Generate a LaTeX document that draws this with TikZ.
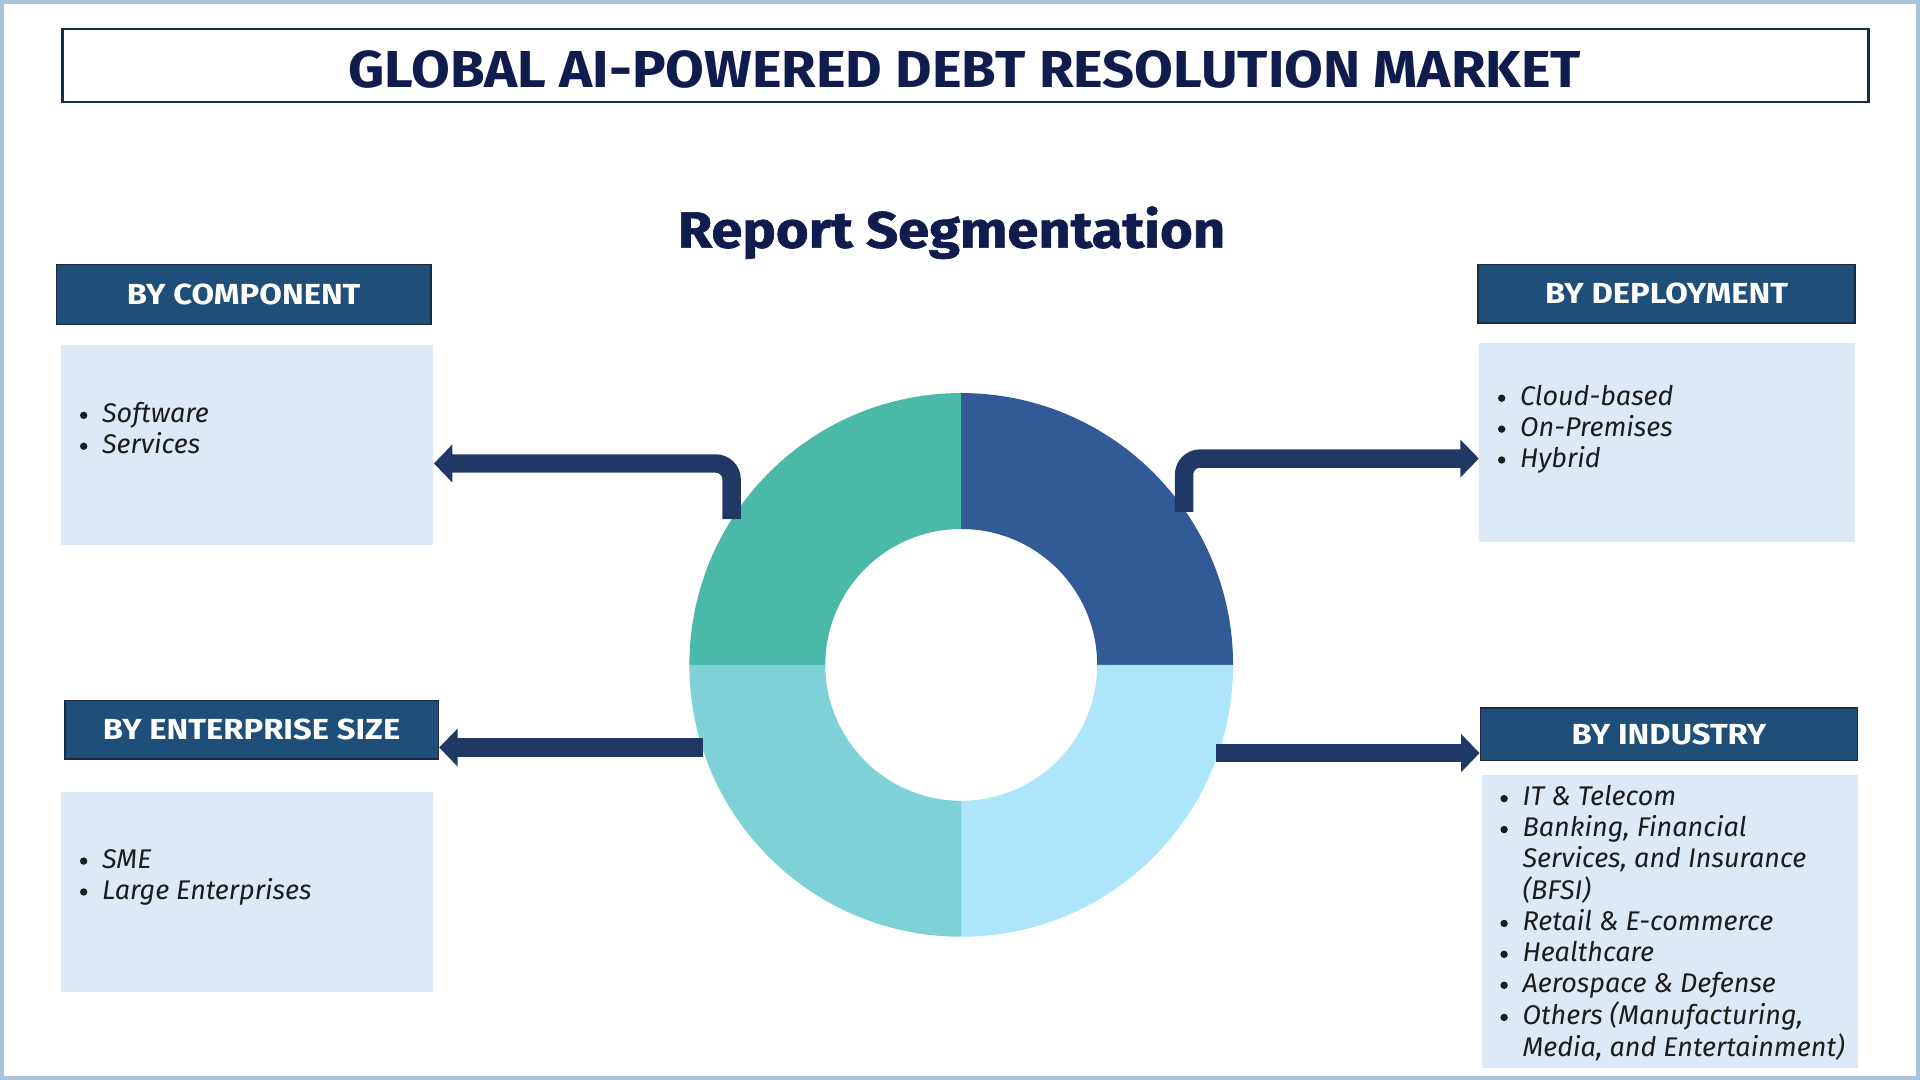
\documentclass[tikz,border=0pt]{standalone}
\usepackage{fontspec}
\setmainfont{Fira Sans}
\usetikzlibrary{arrows.meta,calc}
\definecolor{navy}{HTML}{0F1C4D}
\definecolor{hdr}{HTML}{1F4E79}
\definecolor{hdrline}{HTML}{1A2B42}
\definecolor{listbg}{HTML}{DDEAF6}
\definecolor{arrowc}{HTML}{1F3864}
\definecolor{framec}{HTML}{A9C3DB}
\definecolor{qtl}{HTML}{4AB9A7}
\definecolor{qtr}{HTML}{325A96}
\definecolor{qbr}{HTML}{ADE6FA}
\definecolor{qbl}{HTML}{7ED2D7}
\definecolor{listtext}{HTML}{1C1C1C}
\def\u{0.6122pt}
\tikzset{
  hdrbox/.style={draw=hdrline, line width=0.8pt, fill=hdr, text=white, inner sep=0pt,
    font=\fontsize{14.5}{16}\selectfont\bfseries\addfontfeatures{FakeStretch=1.13}},
  listbox/.style={fill=listbg, inner sep=0pt},
  listtxt/.style={anchor=base west, inner sep=0pt, text=listtext,
    font=\fontsize{13.5}{15.45}\selectfont\itshape},
  segarrow/.style={draw=arrowc, line width=9.18pt, rounded corners=8pt,
    -{Triangle[length=9.2pt,width=18.4pt]}},
}
\newcommand{\bul}{\raisebox{1.7pt}{\tikz\fill[listtext] (0,0) circle (1.85pt);}}
\newcommand{\blist}[1]{\begin{tabular}[t]{@{}l@{\hspace{7.4pt}}l@{}}#1\end{tabular}}
\begin{document}
\begin{tikzpicture}[x=0.6122pt,y=-0.6122pt]
\useasboundingbox (0,0) rectangle (1568,882);
\fill[white] (0,0) rectangle (1568,882);
\draw[framec, line width=1.8pt] (1.5,1.5) rectangle (1566.5,880.5);

% title
\node[draw=hdrline, line width=1.1pt, fill=white, minimum width={1475*\u}, minimum height={59*\u}, inner sep=0pt] (titlebox) at (788.5,53.5) {};
\node[text=navy, font=\fontsize{26}{30}\selectfont\bfseries\addfontfeatures{FakeStretch=1.08}, inner sep=0pt] (title) at (788,57) {GLOBAL AI-POWERED DEBT RESOLUTION MARKET};

\node[text=navy, font=\fontsize{25.5}{28}\selectfont\bfseries\addfontfeatures{FakeStretch=1.1,FakeBold=1.2}, inner sep=0pt] (subtitle) at (777,190) {Report Segmentation};

% headers
\node[hdrbox, minimum width={306*\u}, minimum height={49*\u}] (comphdr) at (199,240.5) {BY COMPONENT};
\node[hdrbox, minimum width={308*\u}, minimum height={48*\u}] (dephdr) at (1361,240) {BY DEPLOYMENT};
\node[hdrbox, minimum width={305*\u}, minimum height={48*\u}] (enthdr) at (205.5,596) {BY ENTERPRISE SIZE};
\node[hdrbox, minimum width={308*\u}, minimum height={43*\u}] (indhdr) at (1363,599.5) {BY INDUSTRY};

% list boxes
\node[listbox, minimum width={304*\u}, minimum height={163*\u}] (complist) at (202,363.5) {};
\node[listbox, minimum width={307*\u}, minimum height={163*\u}] (deplist) at (1361.5,361.5) {};
\node[listbox, minimum width={304*\u}, minimum height={163*\u}] (entlist) at (202,728.5) {};
\node[listbox, minimum width={307*\u}, minimum height={239*\u}] (indlist) at (1363.5,752.5) {};

% list texts
\node[listtxt] (comptxt) at (65,345) {\blist{\bul & Software\\ \bul & Services}};
\node[listtxt] (deptxt) at (1223,331) {\blist{\bul & Cloud-based\\ \bul & On-Premises\\ \bul & Hybrid}};
\node[listtxt] (enttxt) at (65,709) {\blist{\bul & SME\\ \bul & Large Enterprises}};
\node[listtxt] (indtxt) at (1225,658) {\blist{\bul & IT \& Telecom\\ \bul & Banking, Financial\\ & Services, and Insurance\\ & (BFSI)\\ \bul & Retail \& E-commerce\\ \bul & Healthcare\\ \bul & Aerospace \& Defense\\ \bul & Others (Manufacturing,\\ & Media, and Entertainment)}};

% donut
\coordinate (dc) at (785,543);
\def\R{222}\def\r{111}
\fill[qtl] ($(dc)+(180:\R)$) arc[start angle=180, end angle=270, radius=\R] -- ($(dc)+(270:\r)$) arc[start angle=270, end angle=180, radius=\r] -- cycle;
\fill[qtr] ($(dc)+(270:\R)$) arc[start angle=270, end angle=360, radius=\R] -- ($(dc)+(360:\r)$) arc[start angle=360, end angle=270, radius=\r] -- cycle;
\fill[qbr] ($(dc)+(0:\R)$) arc[start angle=0, end angle=90, radius=\R] -- ($(dc)+(90:\r)$) arc[start angle=90, end angle=0, radius=\r] -- cycle;
\fill[qbl] ($(dc)+(90:\R)$) arc[start angle=90, end angle=180, radius=\R] -- ($(dc)+(180:\r)$) arc[start angle=180, end angle=90, radius=\r] -- cycle;

% arrows
\coordinate (s1) at (597.5,424);
\coordinate (s2) at (967,418);
\coordinate (s3) at (574,610.5);
\coordinate (s4) at (993,615);
\draw[segarrow] (s1) |- (complist.east |- 0,378.5);
\draw[segarrow] (s2) |- (deplist.west |- 0,374.5);
\draw[segarrow] (s3) -- (enthdr.east |- 0,610.5);
\draw[segarrow] (s4) -- (indhdr.west |- 0,615);
\end{tikzpicture}
\end{document}
